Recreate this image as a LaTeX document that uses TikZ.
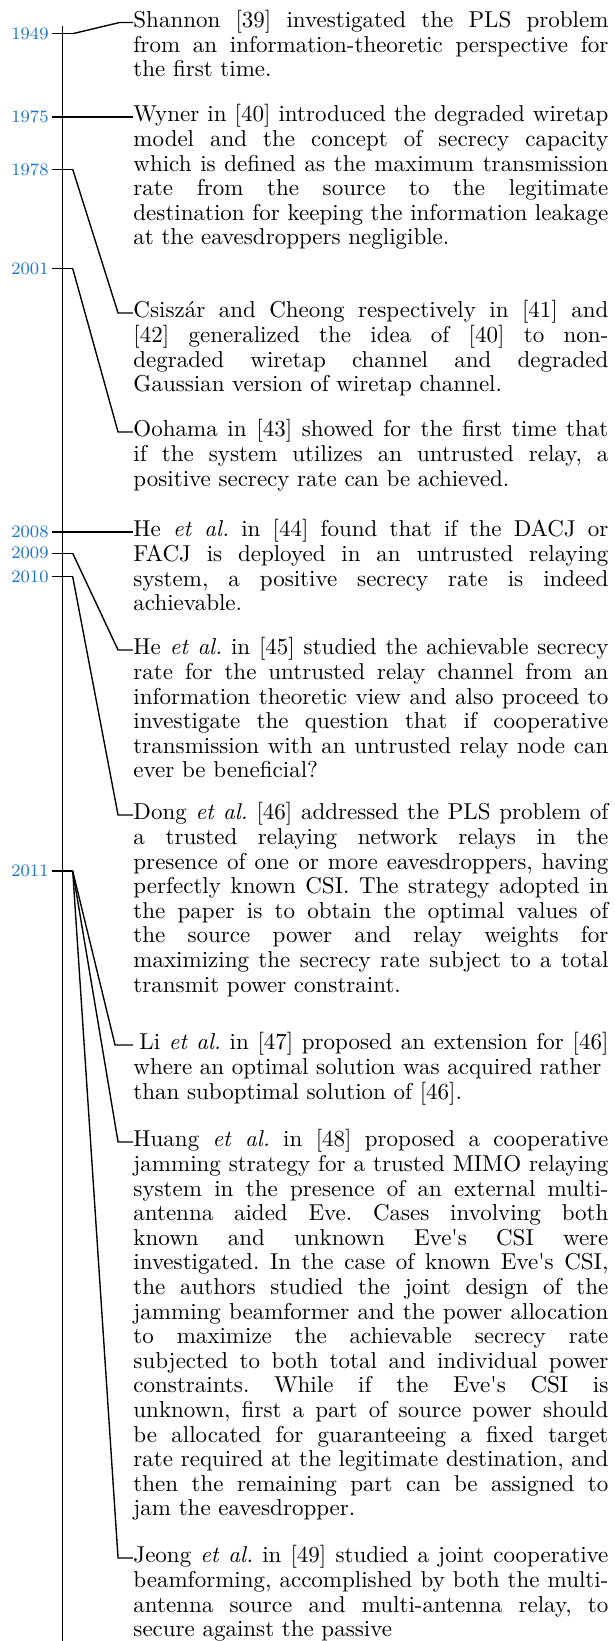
\documentclass[tikz,border=0pt]{standalone}
\definecolor{yearblue}{RGB}{28,117,205}
\tikzset{
  yearlab/.style={anchor=east, inner sep=0pt, text=yearblue, font=\fontsize{7.6}{9}\selectfont},
  entry/.style={anchor=mid west, inner sep=0pt, text width=206.6pt, align=justify, font=\fontsize{10}{10.7}\selectfont\frenchspacing},
  link/.style={line width=0.6pt},
}
\begin{document}
\begin{tikzpicture}[x=0.435pt, y=-0.435pt]
\useasboundingbox (0,0) rectangle (614,1641);

% timeline axis
\coordinate (axtop) at (62.3,26);
\coordinate (axbot) at (62.3,1641);
\draw[link] (axtop) -- (axbot);

% year ticks and labels
\foreach \yr/\yy in {1949/33.7, 1975/117, 1978/169.3, 2001/268.5, 2008/532, 2009/553.3, 2010/576.7, 2011/871}{
  \coordinate (tl\yr) at (52,\yy);
  \coordinate (tr\yr) at (72.7,\yy);
  \node[yearlab] (y\yr) at (49,\yy) {\yr};
  \draw[link] (tl\yr) -- (tr\yr);
}

% entries
\node[entry] (shannon) at (133,22.5) {Shannon [39] investigated the PLS problem\linebreak{}from an information-theoretic perspective for\linebreak{}the first time.};

\node[entry] (wyner) at (133,117) {Wyner in [40] introduced the degraded wiretap\linebreak{}model and the concept of secrecy capacity\linebreak{}which is defined as the maximum transmission\linebreak{}rate from the source to the legitimate\linebreak{}destination for keeping the information leakage\linebreak{}at the eavesdroppers negligible.};

\node[entry] (csiszar) at (133,313) {Csisz\'ar and Cheong respectively in [41] and\linebreak{}[42] generalized the idea of [40] to non-\linebreak{}degraded wiretap channel and degraded\linebreak{}Gaussian version of wiretap channel.};

\node[entry] (oohama) at (133,432) {Oohama in [43] showed for the first time that\linebreak{}if the system utilizes an untrusted relay, a\linebreak{}positive secrecy rate can be achieved.};

\node[entry] (he44) at (133,532) {He \textit{et al.}\ in [44] found that if the DACJ or\linebreak{}FACJ is deployed in an untrusted relaying\linebreak{}system, a positive secrecy rate is indeed\linebreak{}achievable.};

\node[entry] (he45) at (133,650) {He \textit{et al.}\ in [45] studied the achievable secrecy\linebreak{}rate for the untrusted relay channel from an\linebreak{}information theoretic view and also proceed to\linebreak{}investigate the question that if cooperative\linebreak{}transmission with an untrusted relay node can\linebreak{}ever be beneficial?};

\node[entry] (dong) at (133,815) {Dong \textit{et al.}\ [46] addressed the PLS problem of\linebreak{}a trusted relaying network relays in the\linebreak{}presence of one or more eavesdroppers, having\linebreak{}perfectly known CSI. The strategy adopted in\linebreak{}the paper is to obtain the optimal values of\linebreak{}the source power and relay weights for\linebreak{}maximizing the secrecy rate subject to a total\linebreak{}transmit power constraint.};

\node[entry] (li) at (133,1045) {\hspace*{2.6pt}Li \textit{et al.}\ in [47] proposed an extension for [46]\linebreak{}where an optimal solution was acquired rather\newline than suboptimal solution of [46].};

\node[entry] (huang) at (133,1142) {Huang \textit{et al.}\ in [48] proposed a cooperative\linebreak{}jamming strategy for a trusted MIMO relaying\linebreak{}system in the presence of an external multi-\linebreak{}antenna aided Eve. Cases involving both\linebreak{}known and unknown Eve\textquotesingle s CSI were\linebreak{}investigated. In the case of known Eve\textquotesingle s CSI,\linebreak{}the authors studied the joint design of the\linebreak{}jamming beamformer and the power allocation\linebreak{}to maximize the achievable secrecy rate\linebreak{}subjected to both total and individual power\linebreak{}constraints. While if the Eve\textquotesingle s CSI is\linebreak{}unknown, first a part of source power should\linebreak{}be allocated for guaranteeing a fixed target\linebreak{}rate required at the legitimate destination, and\linebreak{}then the remaining part can be assigned to\linebreak{}jam the eavesdropper.};

\node[entry] (jeong) at (133,1558) {Jeong \textit{et al.}\ in [49] studied a joint cooperative\linebreak{}beamforming, accomplished by both the multi-\linebreak{}antenna source and multi-antenna relay, to\linebreak{}secure against the passive};

% connectors from year ticks to entries
\draw[link] (tr1949) -- ([xshift=-5.8pt]shannon.mid west) -- (shannon.mid west);
\draw[link] (tr1975) -- (wyner.mid west);
\draw[link] (tr1978) -- ([xshift=-6.5pt]csiszar.mid west) -- (csiszar.mid west);
\draw[link] (tr2001) -- ([xshift=-6.5pt]oohama.mid west) -- (oohama.mid west);
\draw[link] (tr2008) -- (he44.mid west);
\draw[link] (tr2009) -- ([xshift=-6.5pt]he45.mid west) -- (he45.mid west);
\draw[link] (tr2010) -- ([xshift=-6.5pt]dong.mid west) -- (dong.mid west);
\draw[link] (tr2011) -- ([xshift=-7.8pt]li.mid west) -- (li.mid west);
\draw[link] (tr2011) -- ([xshift=-6.5pt]huang.mid west) -- (huang.mid west);
\draw[link] (tr2011) -- ([xshift=-6.5pt]jeong.mid west) -- (jeong.mid west);
\end{tikzpicture}
\end{document}
